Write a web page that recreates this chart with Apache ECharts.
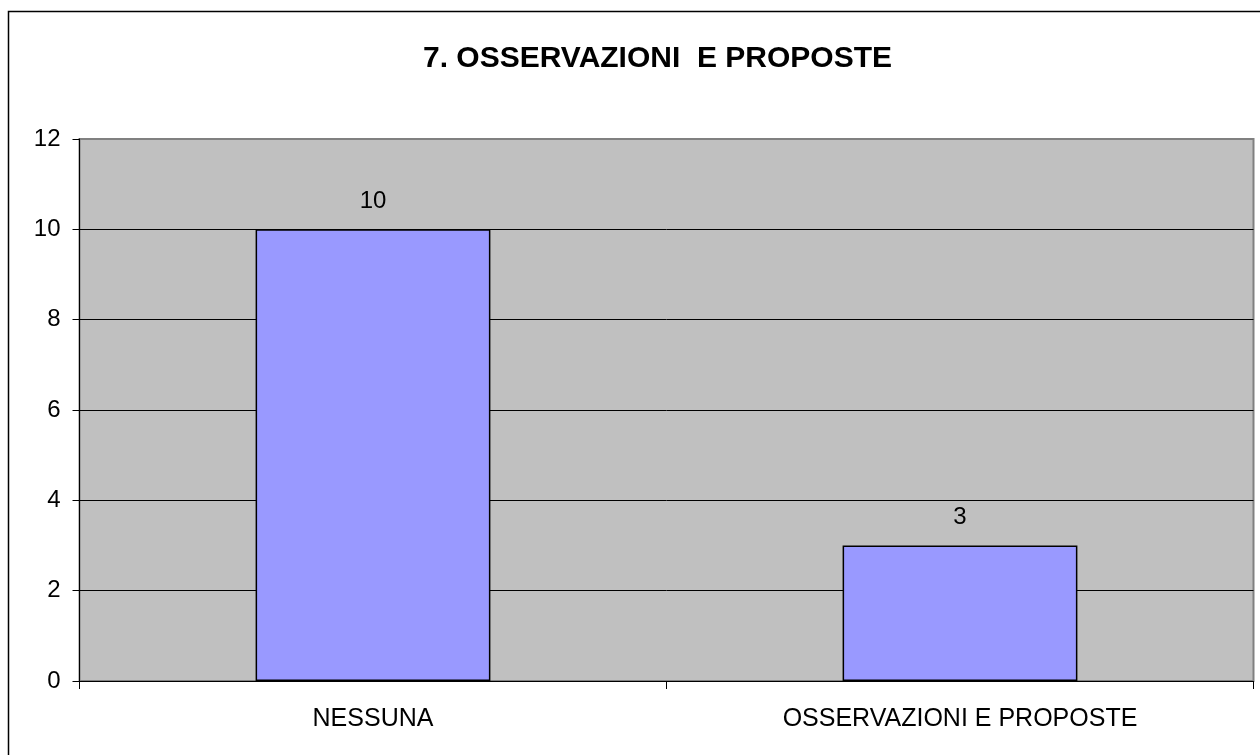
<!DOCTYPE html>
<html>
<head>
<meta charset="utf-8">
<script src="https://cdn.jsdelivr.net/npm/echarts@6/dist/echarts.min.js"></script>
<style>
  html, body { margin: 0; padding: 0; background: #fff; }
  #chart { width: 1260px; height: 755px; }
</style>
</head>
<body>
<div id="chart"></div>
<script>
const categories = ['NESSUNA', 'OSSERVAZIONI E PROPOSTE']
const values = [10, 3]
const yTicks = [0, 2, 4, 6, 8, 10, 12]

const chart = echarts.init(document.getElementById('chart'))

const option = {
  backgroundColor: '#fff',
  animation: false,
  title: {
    text: '7. OSSERVAZIONI  E PROPOSTE',
    left: 418,
    top: 39,
    textStyle: {
      fontFamily: 'Liberation Sans',
      fontSize: 30,
      fontWeight: 'bold',
      color: '#000',
    },
  },
  graphic: [
    {
      type: 'rect',
      shape: { x: 8.5, y: 11.5, width: 1270, height: 770 },
      style: { fill: 'none', stroke: '#000', lineWidth: 1.5 },
      silent: true,
    },
  ],
  grid: {
    left: 79.5,
    top: 139,
    width: 1174,
    height: 542,
    show: true,
    backgroundColor: '#C0C0C0',
    borderColor: '#808080',
    borderWidth: 2,
  },
  xAxis: {
    type: 'category',
    data: categories,
    axisLine: { show: true, lineStyle: { color: '#000', width: 1 } },
    axisTick: { show: true, length: 8, lineStyle: { color: '#000' } },
    axisLabel: {
      margin: 26,
      fontFamily: 'Liberation Sans',
      fontSize: 25,
      color: '#000',
    },
  },
  yAxis: {
    type: 'value',
    min: yTicks[0],
    max: yTicks[yTicks.length - 1],
    interval: 2,
    axisLine: { show: true, lineStyle: { color: '#000', width: 1 } },
    axisTick: { show: true, inside: false, length: 7, lineStyle: { color: '#000' } },
    axisLabel: {
      margin: 19,
      fontFamily: 'Liberation Sans',
      fontSize: 24,
      color: '#000',
    },
    splitLine: {
      show: true,
      lineStyle: {
        color: ['#000', '#000', '#000', '#000', '#000', '#000', '#808080'],
        width: 1,
      },
    },
  },
  series: [
    {
      type: 'bar',
      data: values,
      barWidth: '40%',
      itemStyle: {
        color: '#9999FF',
        borderColor: '#000',
        borderWidth: 1.5,
      },
      label: {
        show: true,
        position: 'top',
        distance: 16,
        fontFamily: 'Liberation Sans',
        fontSize: 24,
        color: '#000',
      },
    },
  ],
}

chart.setOption(option)
</script>
</body>
</html>
